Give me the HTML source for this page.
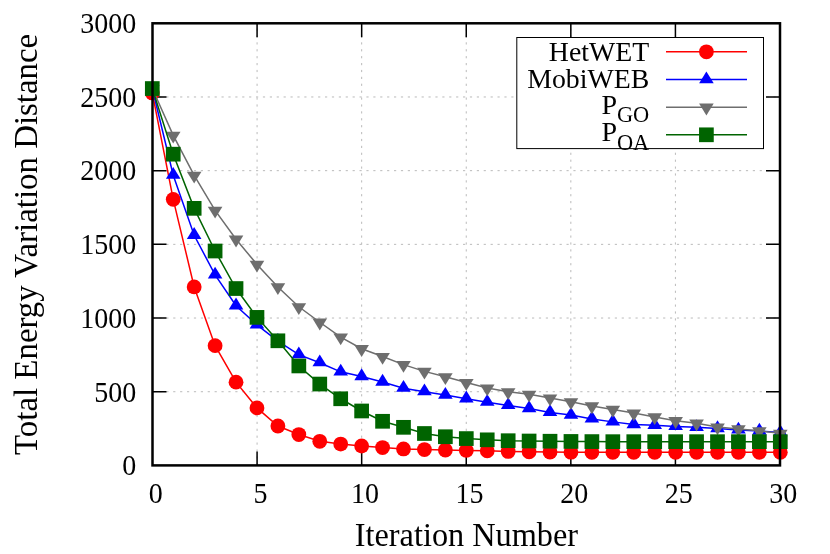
<!DOCTYPE html>
<html><head><meta charset="utf-8"><title>chart</title>
<style>html,body{margin:0;padding:0;background:#fff;width:830px;height:554px;overflow:hidden;font-family:"Liberation Serif",serif}</style></head>
<body>
<svg width="830" height="554" viewBox="0 0 830 554" style="position:absolute;left:0;top:0;will-change:transform">
<rect width="830" height="554" fill="#fff"/>
<path d="M257.08 465.40V23.30M361.67 465.40V23.30M466.25 465.40V23.30M570.83 465.40V23.30M675.42 465.40V23.30M152.50 391.72H780.00M152.50 318.03H780.00M152.50 244.35H780.00M152.50 170.67H780.00M152.50 96.98H780.00" stroke="#bababa" stroke-width="1" stroke-dasharray="2.2 4.7" fill="none"/>
<path d="M257.08 465.40v-14M257.08 23.30v14M361.67 465.40v-14M361.67 23.30v14M466.25 465.40v-14M466.25 23.30v14M570.83 465.40v-14M570.83 23.30v14M675.42 465.40v-14M675.42 23.30v14M152.50 391.72h14M780.00 391.72h-14M152.50 318.03h14M780.00 318.03h-14M152.50 244.35h14M780.00 244.35h-14M152.50 170.67h14M780.00 170.67h-14M152.50 96.98h14M780.00 96.98h-14" stroke="#000" stroke-width="1.5" fill="none"/>
<polyline points="152.30,92.96 173.23,199.36 194.17,286.92 215.10,345.64 236.03,382.14 256.97,407.89 277.90,426.00 298.83,434.53 319.77,441.30 340.70,444.10 361.63,446.01 382.57,447.56 403.50,448.95 424.43,449.54 445.37,449.98 466.30,450.42 487.23,450.87 508.17,451.45 529.10,451.75 550.03,452.04 570.97,452.19 591.90,452.34 612.83,452.34 633.77,452.34 654.70,452.34 675.63,452.34 696.57,452.34 717.50,452.34 738.43,452.34 759.37,452.34 780.30,452.34" fill="none" stroke="#ff0000" stroke-width="1.5"/>
<circle cx="152.30" cy="92.96" r="7.40" fill="#ff0000"/>
<circle cx="173.23" cy="199.36" r="7.40" fill="#ff0000"/>
<circle cx="194.17" cy="286.92" r="7.40" fill="#ff0000"/>
<circle cx="215.10" cy="345.64" r="7.40" fill="#ff0000"/>
<circle cx="236.03" cy="382.14" r="7.40" fill="#ff0000"/>
<circle cx="256.97" cy="407.89" r="7.40" fill="#ff0000"/>
<circle cx="277.90" cy="426.00" r="7.40" fill="#ff0000"/>
<circle cx="298.83" cy="434.53" r="7.40" fill="#ff0000"/>
<circle cx="319.77" cy="441.30" r="7.40" fill="#ff0000"/>
<circle cx="340.70" cy="444.10" r="7.40" fill="#ff0000"/>
<circle cx="361.63" cy="446.01" r="7.40" fill="#ff0000"/>
<circle cx="382.57" cy="447.56" r="7.40" fill="#ff0000"/>
<circle cx="403.50" cy="448.95" r="7.40" fill="#ff0000"/>
<circle cx="424.43" cy="449.54" r="7.40" fill="#ff0000"/>
<circle cx="445.37" cy="449.98" r="7.40" fill="#ff0000"/>
<circle cx="466.30" cy="450.42" r="7.40" fill="#ff0000"/>
<circle cx="487.23" cy="450.87" r="7.40" fill="#ff0000"/>
<circle cx="508.17" cy="451.45" r="7.40" fill="#ff0000"/>
<circle cx="529.10" cy="451.75" r="7.40" fill="#ff0000"/>
<circle cx="550.03" cy="452.04" r="7.40" fill="#ff0000"/>
<circle cx="570.97" cy="452.19" r="7.40" fill="#ff0000"/>
<circle cx="591.90" cy="452.34" r="7.40" fill="#ff0000"/>
<circle cx="612.83" cy="452.34" r="7.40" fill="#ff0000"/>
<circle cx="633.77" cy="452.34" r="7.40" fill="#ff0000"/>
<circle cx="654.70" cy="452.34" r="7.40" fill="#ff0000"/>
<circle cx="675.63" cy="452.34" r="7.40" fill="#ff0000"/>
<circle cx="696.57" cy="452.34" r="7.40" fill="#ff0000"/>
<circle cx="717.50" cy="452.34" r="7.40" fill="#ff0000"/>
<circle cx="738.43" cy="452.34" r="7.40" fill="#ff0000"/>
<circle cx="759.37" cy="452.34" r="7.40" fill="#ff0000"/>
<circle cx="780.30" cy="452.34" r="7.40" fill="#ff0000"/>
<polyline points="152.30,88.54 173.23,175.22 194.17,235.27 215.10,274.86 236.03,305.76 256.97,324.89 277.90,341.08 298.83,354.62 319.77,362.71 340.70,371.84 361.63,376.55 382.57,381.99 403.50,388.17 424.43,391.71 445.37,395.09 466.30,398.77 487.23,402.15 508.17,405.39 529.10,408.48 550.03,412.46 570.97,415.10 591.90,418.93 612.83,421.87 633.77,424.52 654.70,425.26 675.63,426.44 696.57,427.32 717.50,428.50 738.43,429.97 759.37,431.00 780.30,432.62" fill="none" stroke="#0000ff" stroke-width="1.5"/>
<path d="M145.00 92.19L159.60 92.19L152.30 80.37Z" fill="#0000ff"/>
<path d="M165.93 178.87L180.53 178.87L173.23 167.05Z" fill="#0000ff"/>
<path d="M186.87 238.92L201.47 238.92L194.17 227.09Z" fill="#0000ff"/>
<path d="M207.80 278.50L222.40 278.50L215.10 266.68Z" fill="#0000ff"/>
<path d="M228.73 309.41L243.33 309.41L236.03 297.58Z" fill="#0000ff"/>
<path d="M249.67 328.54L264.27 328.54L256.97 316.72Z" fill="#0000ff"/>
<path d="M270.60 344.73L285.20 344.73L277.90 332.90Z" fill="#0000ff"/>
<path d="M291.53 358.27L306.13 358.27L298.83 346.44Z" fill="#0000ff"/>
<path d="M312.47 366.36L327.07 366.36L319.77 354.54Z" fill="#0000ff"/>
<path d="M333.40 375.49L348.00 375.49L340.70 363.66Z" fill="#0000ff"/>
<path d="M354.33 380.20L368.93 380.20L361.63 368.37Z" fill="#0000ff"/>
<path d="M375.27 385.64L389.87 385.64L382.57 373.82Z" fill="#0000ff"/>
<path d="M396.20 391.82L410.80 391.82L403.50 380.00Z" fill="#0000ff"/>
<path d="M417.13 395.36L431.73 395.36L424.43 383.53Z" fill="#0000ff"/>
<path d="M438.07 398.74L452.67 398.74L445.37 386.91Z" fill="#0000ff"/>
<path d="M459.00 402.42L473.60 402.42L466.30 390.59Z" fill="#0000ff"/>
<path d="M479.93 405.80L494.53 405.80L487.23 393.98Z" fill="#0000ff"/>
<path d="M500.87 409.04L515.47 409.04L508.17 397.22Z" fill="#0000ff"/>
<path d="M521.80 412.13L536.40 412.13L529.10 400.31Z" fill="#0000ff"/>
<path d="M542.73 416.11L557.33 416.11L550.03 404.28Z" fill="#0000ff"/>
<path d="M563.67 418.75L578.27 418.75L570.97 406.93Z" fill="#0000ff"/>
<path d="M584.60 422.58L599.20 422.58L591.90 410.76Z" fill="#0000ff"/>
<path d="M605.53 425.52L620.13 425.52L612.83 413.70Z" fill="#0000ff"/>
<path d="M626.47 428.17L641.07 428.17L633.77 416.35Z" fill="#0000ff"/>
<path d="M647.40 428.91L662.00 428.91L654.70 417.08Z" fill="#0000ff"/>
<path d="M668.33 430.09L682.93 430.09L675.63 418.26Z" fill="#0000ff"/>
<path d="M689.27 430.97L703.87 430.97L696.57 419.14Z" fill="#0000ff"/>
<path d="M710.20 432.15L724.80 432.15L717.50 420.32Z" fill="#0000ff"/>
<path d="M731.13 433.62L745.73 433.62L738.43 421.79Z" fill="#0000ff"/>
<path d="M752.07 434.65L766.67 434.65L759.37 422.82Z" fill="#0000ff"/>
<path d="M773.00 436.27L787.60 436.27L780.30 424.44Z" fill="#0000ff"/>
<polyline points="152.30,88.54 173.23,135.34 194.17,175.37 215.10,210.40 236.03,239.24 256.97,264.41 277.90,286.92 298.83,306.79 319.77,322.24 340.70,337.11 361.63,348.73 382.57,356.53 403.50,364.63 424.43,371.40 445.37,376.84 466.30,382.58 487.23,388.03 508.17,391.85 529.10,394.35 550.03,398.03 570.97,401.86 591.90,405.98 612.83,409.51 633.77,413.04 654.70,416.94 675.63,420.76 696.57,423.20 717.50,427.03 738.43,428.94 759.37,430.85 780.30,433.35" fill="none" stroke="#6e6e6e" stroke-width="1.5"/>
<path d="M145.00 84.89L159.60 84.89L152.30 96.72Z" fill="#6e6e6e"/>
<path d="M165.93 131.69L180.53 131.69L173.23 143.52Z" fill="#6e6e6e"/>
<path d="M186.87 171.72L201.47 171.72L194.17 183.55Z" fill="#6e6e6e"/>
<path d="M207.80 206.75L222.40 206.75L215.10 218.57Z" fill="#6e6e6e"/>
<path d="M228.73 235.59L243.33 235.59L236.03 247.42Z" fill="#6e6e6e"/>
<path d="M249.67 260.76L264.27 260.76L256.97 272.58Z" fill="#6e6e6e"/>
<path d="M270.60 283.27L285.20 283.27L277.90 295.10Z" fill="#6e6e6e"/>
<path d="M291.53 303.14L306.13 303.14L298.83 314.97Z" fill="#6e6e6e"/>
<path d="M312.47 318.59L327.07 318.59L319.77 330.42Z" fill="#6e6e6e"/>
<path d="M333.40 333.46L348.00 333.46L340.70 345.28Z" fill="#6e6e6e"/>
<path d="M354.33 345.08L368.93 345.08L361.63 356.91Z" fill="#6e6e6e"/>
<path d="M375.27 352.88L389.87 352.88L382.57 364.71Z" fill="#6e6e6e"/>
<path d="M396.20 360.98L410.80 360.98L403.50 372.80Z" fill="#6e6e6e"/>
<path d="M417.13 367.75L431.73 367.75L424.43 379.57Z" fill="#6e6e6e"/>
<path d="M438.07 373.19L452.67 373.19L445.37 385.02Z" fill="#6e6e6e"/>
<path d="M459.00 378.93L473.60 378.93L466.30 390.76Z" fill="#6e6e6e"/>
<path d="M479.93 384.38L494.53 384.38L487.23 396.20Z" fill="#6e6e6e"/>
<path d="M500.87 388.20L515.47 388.20L508.17 400.03Z" fill="#6e6e6e"/>
<path d="M521.80 390.70L536.40 390.70L529.10 402.53Z" fill="#6e6e6e"/>
<path d="M542.73 394.38L557.33 394.38L550.03 406.21Z" fill="#6e6e6e"/>
<path d="M563.67 398.21L578.27 398.21L570.97 410.04Z" fill="#6e6e6e"/>
<path d="M584.60 402.33L599.20 402.33L591.90 414.16Z" fill="#6e6e6e"/>
<path d="M605.53 405.86L620.13 405.86L612.83 417.69Z" fill="#6e6e6e"/>
<path d="M626.47 409.39L641.07 409.39L633.77 421.22Z" fill="#6e6e6e"/>
<path d="M647.40 413.29L662.00 413.29L654.70 425.12Z" fill="#6e6e6e"/>
<path d="M668.33 417.11L682.93 417.11L675.63 428.93Z" fill="#6e6e6e"/>
<path d="M689.27 419.55L703.87 419.55L696.57 431.38Z" fill="#6e6e6e"/>
<path d="M710.20 423.38L724.80 423.38L717.50 435.20Z" fill="#6e6e6e"/>
<path d="M731.13 425.29L745.73 425.29L738.43 437.11Z" fill="#6e6e6e"/>
<path d="M752.07 427.20L766.67 427.20L759.37 439.03Z" fill="#6e6e6e"/>
<path d="M773.00 429.70L787.60 429.70L780.30 441.53Z" fill="#6e6e6e"/>
<polyline points="152.30,88.54 173.23,154.18 194.17,208.34 215.10,251.01 236.03,288.54 256.97,317.39 277.90,340.79 298.83,365.95 319.77,384.05 340.70,398.77 361.63,410.98 382.57,421.29 403.50,427.32 424.43,433.50 445.37,436.74 466.30,438.58 487.23,439.83 508.17,440.71 529.10,441.01 550.03,441.23 570.97,441.45 591.90,441.59 612.83,441.67 633.77,441.67 654.70,441.67 675.63,441.67 696.57,441.67 717.50,441.67 738.43,441.67 759.37,441.67 780.30,441.67" fill="none" stroke="#006400" stroke-width="1.5"/>
<rect x="144.95" y="81.19" width="14.70" height="14.70" fill="#006400"/>
<rect x="165.88" y="146.83" width="14.70" height="14.70" fill="#006400"/>
<rect x="186.82" y="200.99" width="14.70" height="14.70" fill="#006400"/>
<rect x="207.75" y="243.66" width="14.70" height="14.70" fill="#006400"/>
<rect x="228.68" y="281.19" width="14.70" height="14.70" fill="#006400"/>
<rect x="249.62" y="310.04" width="14.70" height="14.70" fill="#006400"/>
<rect x="270.55" y="333.44" width="14.70" height="14.70" fill="#006400"/>
<rect x="291.48" y="358.60" width="14.70" height="14.70" fill="#006400"/>
<rect x="312.42" y="376.70" width="14.70" height="14.70" fill="#006400"/>
<rect x="333.35" y="391.42" width="14.70" height="14.70" fill="#006400"/>
<rect x="354.28" y="403.63" width="14.70" height="14.70" fill="#006400"/>
<rect x="375.22" y="413.94" width="14.70" height="14.70" fill="#006400"/>
<rect x="396.15" y="419.97" width="14.70" height="14.70" fill="#006400"/>
<rect x="417.08" y="426.15" width="14.70" height="14.70" fill="#006400"/>
<rect x="438.02" y="429.39" width="14.70" height="14.70" fill="#006400"/>
<rect x="458.95" y="431.23" width="14.70" height="14.70" fill="#006400"/>
<rect x="479.88" y="432.48" width="14.70" height="14.70" fill="#006400"/>
<rect x="500.82" y="433.36" width="14.70" height="14.70" fill="#006400"/>
<rect x="521.75" y="433.66" width="14.70" height="14.70" fill="#006400"/>
<rect x="542.68" y="433.88" width="14.70" height="14.70" fill="#006400"/>
<rect x="563.62" y="434.10" width="14.70" height="14.70" fill="#006400"/>
<rect x="584.55" y="434.24" width="14.70" height="14.70" fill="#006400"/>
<rect x="605.48" y="434.32" width="14.70" height="14.70" fill="#006400"/>
<rect x="626.42" y="434.32" width="14.70" height="14.70" fill="#006400"/>
<rect x="647.35" y="434.32" width="14.70" height="14.70" fill="#006400"/>
<rect x="668.28" y="434.32" width="14.70" height="14.70" fill="#006400"/>
<rect x="689.22" y="434.32" width="14.70" height="14.70" fill="#006400"/>
<rect x="710.15" y="434.32" width="14.70" height="14.70" fill="#006400"/>
<rect x="731.08" y="434.32" width="14.70" height="14.70" fill="#006400"/>
<rect x="752.02" y="434.32" width="14.70" height="14.70" fill="#006400"/>
<rect x="772.95" y="434.32" width="14.70" height="14.70" fill="#006400"/>
<rect x="516.8" y="37.5" width="246.7" height="111.1" fill="#fff" stroke="#000" stroke-width="1"/>
<path d="M666 51.8H747" stroke="#ff0000" stroke-width="1.5"/>
<circle cx="706.40" cy="51.80" r="7.40" fill="#ff0000"/>
<path d="M666 79.6H747" stroke="#0000ff" stroke-width="1.5"/>
<path d="M699.10 83.25L713.70 83.25L706.40 71.42Z" fill="#0000ff"/>
<path d="M666 107.2H747" stroke="#6e6e6e" stroke-width="1.5"/>
<path d="M699.10 103.55L713.70 103.55L706.40 115.38Z" fill="#6e6e6e"/>
<path d="M666 134.8H747" stroke="#006400" stroke-width="1.5"/>
<rect x="699.05" y="127.45" width="14.70" height="14.70" fill="#006400"/>
<rect x="152.5" y="23.3" width="627.5" height="442.09999999999997" fill="none" stroke="#000" stroke-width="2.5"/>
<g style="font-family:'Liberation Serif',serif;fill:#000" font-size="28">
<text transform="translate(136.3 475.20) scale(1 1.07)" text-anchor="end">0</text>
<text transform="translate(136.3 401.52) scale(1 1.07)" text-anchor="end">500</text>
<text transform="translate(136.3 327.83) scale(1 1.07)" text-anchor="end">1000</text>
<text transform="translate(136.3 254.15) scale(1 1.07)" text-anchor="end">1500</text>
<text transform="translate(136.3 180.47) scale(1 1.07)" text-anchor="end">2000</text>
<text transform="translate(136.3 106.78) scale(1 1.07)" text-anchor="end">2500</text>
<text transform="translate(136.3 33.10) scale(1 1.07)" text-anchor="end">3000</text>
<text transform="translate(155.80 502.6) scale(1 1.07)" text-anchor="middle">0</text>
<text transform="translate(260.38 502.6) scale(1 1.07)" text-anchor="middle">5</text>
<text transform="translate(364.97 502.6) scale(1 1.07)" text-anchor="middle">10</text>
<text transform="translate(469.55 502.6) scale(1 1.07)" text-anchor="middle">15</text>
<text transform="translate(574.13 502.6) scale(1 1.07)" text-anchor="middle">20</text>
<text transform="translate(678.72 502.6) scale(1 1.07)" text-anchor="middle">25</text>
<text transform="translate(783.30 502.6) scale(1 1.07)" text-anchor="middle">30</text>
<text x="649.2" y="60.9" text-anchor="end" font-size="27.8">HetWET</text>
<text x="649.2" y="88.4" text-anchor="end" font-size="27.8">MobiWEB</text>
<text x="649.3" y="113.8" text-anchor="end">P<tspan font-size="22.4" dy="8.3">GO</tspan></text>
<text x="649.3" y="141.1" text-anchor="end">P<tspan font-size="22.4" dy="9">OA</tspan></text>
</g>
<text transform="translate(466.45 545.5) scale(0.988 1)" text-anchor="middle" font-size="32.7" style="font-family:'Liberation Serif',serif;fill:#000">Iteration Number</text>
<text transform="translate(37.2 244.4) rotate(-90)" text-anchor="middle" font-size="32.9" style="font-family:'Liberation Serif',serif;fill:#000">Total Energy Variation Distance</text>
</svg>
</body></html>
